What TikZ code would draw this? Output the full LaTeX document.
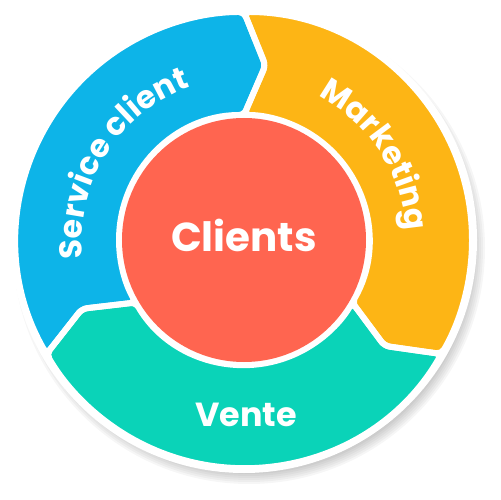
\documentclass[tikz,border=0pt]{standalone}
\usepackage{fontspec}
\setmainfont{Poppins}
\usetikzlibrary{decorations.text}

\definecolor{segbleu}{HTML}{0DB4E8}
\definecolor{segorange}{HTML}{FDB515}
\definecolor{segvert}{HTML}{0AD3B8}
\definecolor{rouge}{HTML}{FF6550}

% one arrow-shaped part of the ring, from angle #1 clockwise to angle #2
\newcommand{\ringpart}[2]{(#1:228) arc[start angle=#1, end angle=#2, radius=228]
  -- (#2-7:176) -- (#2:125) arc[start angle=#2, end angle=#1, radius=125]
  -- (#1-7:176) -- cycle}

\begin{document}
\begin{tikzpicture}[x=0.02cm, y=0.02cm,
    labelfont/.style={font=\bfseries\fontsize{19}{19}\selectfont, text=white},
    gap/.style={draw=white, line width=3.4pt, rounded corners=3pt}]
	\useasboundingbox (-244,-260) rectangle (256,240);
	% soft shadow and white disk
	\foreach \k in {0,...,6}
		\fill[black, opacity=0.035] (5,-8) circle ({224+2*\k});
	\fill[white] (0,0) circle (233);
	% the three parts of the ring
	\fill[segbleu, rounded corners=3pt] \ringpart{210}{90};
	\fill[segorange, rounded corners=3pt] \ringpart{90}{-30};
	\fill[segvert, rounded corners=3pt] \ringpart{-30}{-150};
	\draw[gap] \ringpart{210}{90};
	\draw[gap] \ringpart{90}{-30};
	\draw[gap] \ringpart{-30}{-150};
	% centre
	\fill[rouge] (0,0) circle (122);
	\node[labelfont, font=\bfseries\fontsize{23}{23}\selectfont] (clients) at (0,5) {Clients};
	\node[labelfont] (vente) at (2,-175) {Vente};
	\path[decorate, decoration={text along path, text align=center, text color=white,
		text={|\bfseries\fontsize{18}{18}\selectfont|Service client}}]
		(210:162) arc[start angle=210, end angle=86, radius=162];
	\path[decorate, decoration={text along path, text align=center, text color=white,
		text={|\bfseries\fontsize{18}{18}\selectfont|Marketing}}]
		(96:162) arc[start angle=96, end angle=-30, radius=162];
\end{tikzpicture}
\end{document}
